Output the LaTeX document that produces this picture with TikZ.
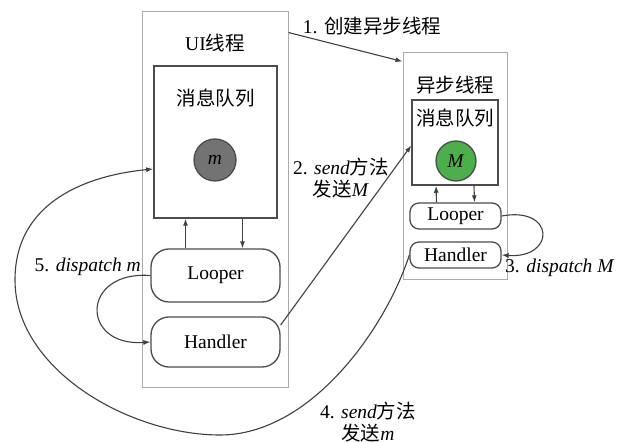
\documentclass[tikz,border=0pt]{standalone}
\usepackage{fontspec}
\setmainfont{Liberation Serif}
\newfontfamily\cjk{Noto Sans CJK SC}
\usetikzlibrary{arrows.meta}

\begin{document}
\begin{tikzpicture}[
    x=1pt, y=-1pt,
    font=\rmfamily\fontsize{19.5}{21.5}\selectfont,
    hilo/.style={
        rectangle,
        draw=gray!65,
        line width=1pt
    },
    cola/.style={
        rectangle,
        draw=black!70,
        line width=1.5pt
    },
    bloque/.style={
        rectangle,
        draw=black!70,
        line width=1.3pt,
        rounded corners=18pt
    },
    bloquechico/.style={
        rectangle,
        draw=black!70,
        line width=1.3pt,
        rounded corners=9pt,
        inner sep=0pt
    },
    msg/.style={
        circle,
        draw=black!70,
        line width=1.3pt,
        inner sep=0pt
    },
    flecha/.style={
        draw=black!75,
        line width=1.1pt,
        -{Latex[length=7pt,width=5pt]}
    }
]
\useasboundingbox (0,0) rectangle (627,443);

% Hilo de la UI
\node[hilo, minimum width=146, minimum height=376] (uihilo) at (215,200) {};
\node (uititulo) at (215,43) {UI{\cjk 线程}};
\node[cola, minimum width=123, minimum height=152] (uicola) at (215.5,142) {};
\node (uicolatitulo) at (215.5,98) {\cjk 消息队列};
\node[msg, fill=black!55, minimum size=42] (uim) at (215,160) {\textit{m}};
\node[bloque, minimum width=129, minimum height=53] (uilooper) at (215.5,275.5) {Looper};
\node[bloque, minimum width=129, minimum height=50] (uihandler) at (215.5,342) {Handler};

% Hilo asíncrono
\node[hilo, minimum width=104, minimum height=227] (ashilo) at (455,166.5) {};
\node (astitulo) at (455,85) {\cjk 异步线程};
\node[cola, minimum width=86, minimum height=85] (ascola) at (455,142.5) {};
\node (ascolatitulo) at (455,118) {\cjk 消息队列};
\node[msg, fill=green!55!black!70, minimum size=40] (asm) at (456,161) {\textit{M}};
\node[bloquechico, minimum width=91, minimum height=26] (aslooper) at (455.5,216) {Looper};
\node[bloquechico, minimum width=91, minimum height=26] (ashandler) at (455.5,255) {Handler};

% Cola <-> Looper
\draw[flecha] ([xshift=-30pt]uilooper.north) -- ([xshift=-30pt]uicola.south);
\draw[flecha] ([xshift=27pt]uicola.south) -- ([xshift=27pt]uilooper.north);
\draw[flecha] ([xshift=-19pt]aslooper.north) -- ([xshift=-19pt]ascola.south);
\draw[flecha] ([xshift=19pt]ascola.south) -- ([xshift=19pt]aslooper.north);

% 1. crear el hilo
\draw[flecha] ([yshift=-21pt]uihilo.north east) -- ([yshift=-9pt]ashilo.north west);
\node (paso1) at (372,26) {1. {\cjk 创建异步线程}};

% 2. send M
\draw[flecha] ([yshift=17pt]uihandler.east) -- ([yshift=-3pt]ascola.west);
\node[align=center] (paso2) at (341,178) {2. \textit{send}{\cjk 方法}\\{\cjk 发送}\textit{M}};

% 3. dispatch M
\draw[flecha] (aslooper.east) .. controls +(54,-10) and +(54,4) .. (ashandler.east);
\node[anchor=west, inner sep=0pt] (paso3) at (505,268) {3. \textit{dispatch M}};

% 4. send m
\draw[flecha] (ashandler.west) .. controls (385,330) and (310,435) .. (220,435)
    .. controls (130,435) and (15,370) .. (15,280)
    .. controls (15,200) and (90,175) .. ([yshift=-27pt]uicola.west);
\node[align=center] (paso4) at (368,422) {4. \textit{send}{\cjk 方法}\\{\cjk 发送}\textit{m}};

% 5. dispatch m
\draw[flecha] (uilooper.west) .. controls +(-70,-5) and +(-70,5) .. (uihandler.west);
\node[anchor=east, inner sep=0pt] (paso5) at (141,267) {5. \textit{dispatch m}};

\end{tikzpicture}
\end{document}
